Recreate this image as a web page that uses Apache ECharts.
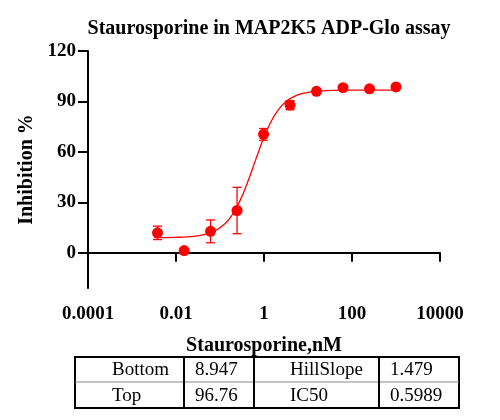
<!DOCTYPE html>
<html><head><meta charset="utf-8">
<script src="https://cdn.jsdelivr.net/npm/echarts@6/dist/echarts.min.js"></script>
<style>html,body{margin:0;padding:0;background:#fff}#c{width:500px;height:420px}</style>
</head><body><div id="c"></div>
<script>
const concentrations = [0.0038, 0.0153, 0.061, 0.244, 0.977, 3.91, 15.6, 62.5, 250, 1000];
const inhibition = [11.8, 1.3, 12.7, 25.1, 70.4, 87.8, 96.0, 98.2, 97.5, 98.6];
const errorSD = [4.0, 0, 6.8, 13.8, 3.5, 2.7, 0.8, 0.6, 0.6, 0.6];
const curveX = [0.0032, 0.01, 0.025, 0.063, 0.126, 0.2, 0.316, 0.447, 0.6, 0.794, 1.0, 1.41, 2.0, 3.16, 5.62, 10, 25, 100, 316, 1000];
const curveY = [9.0, 9.15, 9.75, 12.0, 16.9, 23.4, 33.5, 43.5, 52.9, 61.9, 68.7, 77.5, 84.1, 89.9, 93.7, 95.4, 96.4, 96.7, 96.75, 96.76];
const xTickLabels = ['0.0001', '0.01', '1', '100', '10000'];
const yTicks = [0, 30, 60, 90, 120];
const tableNames1 = ['Bottom', 'Top'];
const tableValues1 = ['8.947', '96.76'];
const tableNames2 = ['HillSlope', 'IC50'];
const tableValues2 = ['1.479', '0.5989'];

const RED = '#ff0000';
const SERIF = 'Liberation Serif';
const chart = echarts.init(document.getElementById('c'), null, {renderer: 'canvas'});

const pts = concentrations.map((x, i) => [x, inhibition[i]]);
const errs = concentrations.map((x, i) => [x, inhibition[i] - errorSD[i], inhibition[i] + errorSD[i]]);
const curve = curveX.map((x, i) => [x, curveY[i]]);

// table graphic
const tL = 75, tR = 459, tT = 357, tM = 382, tB = 408;
const cols = [184, 254, 379];
const g = [];
g.push({type: 'rect', shape: {x: tL, y: tT, width: tR - tL, height: tB - tT}, style: {fill: 'none', stroke: '#000', lineWidth: 2}});
g.push({type: 'line', shape: {x1: tL, y1: tM, x2: tR, y2: tM}, style: {stroke: '#888', lineWidth: 1}});
cols.forEach(cx => g.push({type: 'line', shape: {x1: cx, y1: tT, x2: cx, y2: tB}, style: {stroke: '#000', lineWidth: 2}}));
const rowsY = [(tT + tM) / 2 + 1, (tM + tB) / 2 + 1];
const colTextX = [112, 195, 290, 390];
const colData = [tableNames1, tableValues1, tableNames2, tableValues2];
colData.forEach((arr, ci) => arr.forEach((t, ri) => g.push({
  type: 'text', x: colTextX[ci], y: rowsY[ri],
  style: {text: t, fontFamily: SERIF, fontSize: 19, fontWeight: 'normal', fill: '#000', align: 'left', verticalAlign: 'middle'}
})));

chart.setOption({
  animation: false,
  backgroundColor: '#fff',
  title: {
    text: 'Staurosporine in MAP2K5 ADP-Glo assay',
    left: 264, top: 14, textAlign: 'center',
    textStyle: {fontFamily: SERIF, fontWeight: 'bold', fontSize: 20, color: '#000'}
  },
  grid: {left: 88, right: 60, top: 51, bottom: 132},
  xAxis: {
    type: 'log', logBase: 100, min: 0.0001, max: 10000,
    name: 'Staurosporine,nM', nameLocation: 'middle', nameGap: 48,
    nameTextStyle: {fontFamily: SERIF, fontWeight: 'bold', fontSize: 20, color: '#000'},
    axisLine: {lineStyle: {color: '#000', width: 2}},
    axisTick: {inside: false, length: 9, lineStyle: {color: '#000', width: 2}},
    minorTick: {show: false},
    splitLine: {show: false},
    axisLabel: {
      margin: 17, color: '#000', fontFamily: SERIF, fontWeight: 'bold', fontSize: 19,
      formatter: (v, i) => xTickLabels[i] !== undefined ? xTickLabels[i] : ''
    }
  },
  yAxis: {
    type: 'value', min: -21, max: 120,
    name: 'Inhibition %', nameLocation: 'middle', nameGap: 50,
    nameTextStyle: {fontFamily: SERIF, fontWeight: 'bold', fontSize: 20, color: '#000'},
    axisLine: {show: true, lineStyle: {color: '#000', width: 2}},
    axisTick: {show: true, inside: false, length: 10, lineStyle: {color: '#000', width: 2}, customValues: yTicks},
    splitLine: {show: false},
    axisLabel: {margin: 12, color: '#000', fontFamily: SERIF, fontWeight: 'bold', fontSize: 19, customValues: yTicks}
  },
  series: [
    {
      type: 'line', data: curve, smooth: 0.3, symbol: 'none',
      lineStyle: {color: RED, width: 1.3}, z: 2
    },
    {
      type: 'custom', data: errs, z: 3,
      renderItem: (params, api) => {
        const x = api.value(0), lo = api.value(1), hi = api.value(2);
        if (hi - lo <= 0) return null;
        const p1 = api.coord([x, lo]), p2 = api.coord([x, hi]);
        const w = 4.5;
        const st = {stroke: RED, lineWidth: 1.3};
        return {type: 'group', children: [
          {type: 'line', shape: {x1: p1[0], y1: p1[1], x2: p2[0], y2: p2[1]}, style: st},
          {type: 'line', shape: {x1: p1[0] - w, y1: p1[1], x2: p1[0] + w, y2: p1[1]}, style: st},
          {type: 'line', shape: {x1: p2[0] - w, y1: p2[1], x2: p2[0] + w, y2: p2[1]}, style: st}
        ]};
      }
    },
    {
      type: 'scatter', data: pts, symbol: 'circle', symbolSize: 11,
      itemStyle: {color: RED, opacity: 1}, z: 4
    }
  ],
  graphic: g
});
</script></body></html>
